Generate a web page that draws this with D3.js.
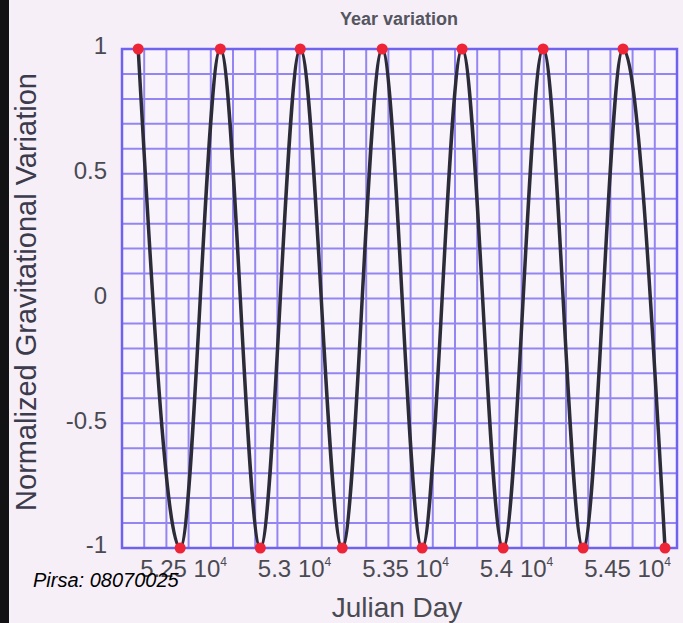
<!DOCTYPE html>
<meta charset="utf-8">
<style>

body { margin: 0; background: #f6eff8; }
svg { display: block; }
.tick text { fill: #4a4a52; font-family: "Liberation Sans", Arial, sans-serif; }

</style>
<body>

<script src="https://cdn.jsdelivr.net/npm/d3@7"></script>
<script>

// data: julian day of each extreme and its value
var extremaDays = [52298, 52487, 52668, 52848, 53028, 53217, 53397,
                   53577, 53757, 53942, 54122, 54302, 54482, 54671];
var extremaValues = [1, -1, 1, -1, 1, -1, 1, -1, 1, -1, 1, -1, 1, -1];

var xTicks = [52500, 53000, 53500, 54000, 54500];
var xTickLabels = ["5.25", "5.3", "5.35", "5.4", "5.45"];
var yTicks = [1, 0.5, 0, -0.5, -1];
var yTickLabels = ["1", "0.5", "0", "-0.5", "-1"];

// page and plot box
var W = 683, H = 623;
var margin = {top: 49, right: 6, bottom: 75, left: 122},
    width = W - margin.left - margin.right,
    height = H - margin.top - margin.bottom;

var svg = d3.select("body").append("svg")
    .attr("width", W)
    .attr("height", H);

svg.append("rect")
    .attr("width", W).attr("height", H)
    .attr("fill", "#f6eff8");

// black strip on the left edge of the slide
svg.append("rect")
    .attr("width", 9).attr("height", H)
    .attr("fill", "#121214");

var x = d3.scaleLinear()
    .domain([52225, 54725])
    .range([0, width]);
var y = d3.scaleLinear()
    .domain([-1, 1])
    .range([height, 0]);

var g = svg.append("g")
    .attr("transform", "translate(" + margin.left + "," + margin.top + ")");

g.append("rect")
    .attr("width", width).attr("height", height)
    .attr("fill", "#f9f4fb");

// graph paper grid
g.append("g").selectAll("line")
    .data(d3.range(52225, 54726, 100))
  .enter().append("line")
    .attr("x1", function(d) { return x(d); })
    .attr("x2", function(d) { return x(d); })
    .attr("y1", 0).attr("y2", height)
    .attr("stroke", "#9486f2")
    .attr("stroke-width", 2);

g.append("g").selectAll("line")
    .data(d3.range(-1, 1.001, 0.1))
  .enter().append("line")
    .attr("x1", 0).attr("x2", width)
    .attr("y1", function(d) { return y(d); })
    .attr("y2", function(d) { return y(d); })
    .attr("stroke", "#9486f2")
    .attr("stroke-width", 2);

g.append("rect")
    .attr("width", width).attr("height", height)
    .attr("fill", "none")
    .attr("stroke", "#6f62ee")
    .attr("stroke-width", 2.5);

// the curve
var points = extremaDays.map(function(d, i) { return {day: d, v: extremaValues[i]}; });

var line = d3.line()
    .x(function(d) { return x(d.day); })
    .y(function(d) { return y(d.v); })
    .curve(d3.curveMonotoneX);

g.append("path")
    .datum(points)
    .attr("d", line)
    .attr("fill", "none")
    .attr("stroke", "#2c2b38")
    .attr("stroke-width", 3.5);

g.selectAll("circle")
    .data(points)
  .enter().append("circle")
    .attr("cx", function(d) { return x(d.day); })
    .attr("cy", function(d) { return y(d.v); })
    .attr("r", 5.5)
    .attr("fill", "#ee2437");

// y axis labels
var yAxis = g.append("g")
    .call(d3.axisLeft(y)
        .tickValues(yTicks)
        .tickSize(0)
        .tickPadding(15)
        .tickFormat(function(d, i) { return yTickLabels[i]; }));
yAxis.select(".domain").remove();
yAxis.selectAll("text")
    .attr("font-size", 24)
    .attr("dy", "0.2em");

// x axis labels, mantissa with a 10^4 after it
var xAxis = g.append("g")
    .attr("transform", "translate(0," + height + ")")
    .call(d3.axisBottom(x)
        .tickValues(xTicks)
        .tickSize(0)
        .tickPadding(12));
xAxis.select(".domain").remove();
xAxis.selectAll("text")
    .attr("font-size", 24)
    .text(null)
    .each(function(d, i) {
      var t = d3.select(this);
      t.append("tspan").text(xTickLabels[i] + " 10");
      t.append("tspan")
          .attr("font-size", 12)
          .attr("dy", "-0.9em")
          .text("4");
    });

// titles
svg.append("text")
    .attr("x", 399).attr("y", 25)
    .attr("text-anchor", "middle")
    .attr("font-family", "Liberation Sans, Arial, sans-serif")
    .attr("font-weight", "bold")
    .attr("font-size", 18)
    .attr("fill", "#55555f")
    .text("Year variation");

svg.append("text")
    .attr("x", 397).attr("y", 617)
    .attr("text-anchor", "middle")
    .attr("font-family", "Liberation Sans, Arial, sans-serif")
    .attr("font-size", 28)
    .attr("fill", "#4a4a52")
    .text("Julian Day");

svg.append("text")
    .attr("transform", "translate(36,292) rotate(-90)")
    .attr("text-anchor", "middle")
    .attr("font-family", "Liberation Sans, Arial, sans-serif")
    .attr("font-size", 29)
    .attr("fill", "#3c3b4c")
    .text("Normalized Gravitational Variation");

svg.append("text")
    .attr("x", 33).attr("y", 587)
    .attr("font-family", "Liberation Sans, Arial, sans-serif")
    .attr("font-style", "italic")
    .attr("font-size", 20)
    .attr("fill", "#000")
    .text("Pirsa: 08070025");

</script>
</body>
